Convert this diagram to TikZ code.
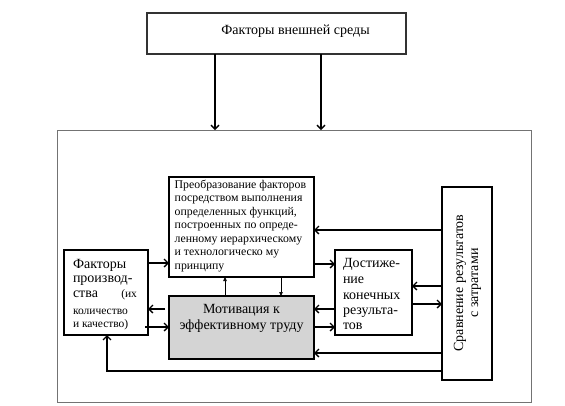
\documentclass[tikz,border=0pt]{standalone}
\usepackage{fontspec}
\setmainfont{Liberation Serif}
\usetikzlibrary{arrows.meta}
\begin{document}
\begin{tikzpicture}[x=1pt,y=-1pt,
  box/.style={draw=black, line width=1.6pt, inner sep=0pt, outer sep=0pt, anchor=north west},
  outerbox/.style={draw=black!55, line width=0.9pt, inner sep=0pt, outer sep=0pt, anchor=north west},
  arr/.style={line width=1.3pt, -{Straight Barb[length=4pt,width=8pt,line width=1.3pt]}},
  sarr/.style={line width=0.6pt, -{Triangle[length=4pt,width=3.5pt]}},
  lbl/.style={inner sep=0pt, outer sep=0pt, anchor=base west},
  big/.style={font=\fontsize{14}{15}\selectfont},
  small/.style={font=\fontsize{11.5}{12}\selectfont}]
\useasboundingbox (0,0) rectangle (565,405);

% boxes
\node[box, draw=black!80, minimum width=259pt, minimum height=41pt] (env) at (147,13) {};
\node[outerbox, minimum width=474pt, minimum height=272pt] (outer) at (57,130) {};
\node[box, minimum width=145pt, minimum height=100pt] (tr) at (169,177) {};
\node[box, minimum width=84pt, minimum height=85pt] (fp) at (64,250) {};
\node[box, fill=black!17, minimum width=145pt, minimum height=63pt] (mo) at (169,296) {};
\node[box, minimum width=77pt, minimum height=85pt] (ach) at (335,250) {};
\node[box, minimum width=50pt, minimum height=193pt] (cmp) at (442,187) {};

% texts
\node[inner sep=0pt, font=\fontsize{14}{16}\selectfont] (envt) at (295.5,31) {Факторы внешней среды};

\node[inner sep=0pt, anchor=north west, align=left, font=\fontsize{11.8}{13.5}\selectfont] (trt) at (174.5,179.5)
 {Преобразование факторов\\
  посредством выполнения\\
  определенных функций,\\
  построенных по опреде-\\
  ленному иерархическому\\
  и технологическо му\\
  принципу};

\node[lbl, big] (f1) at (73,268) {Факторы};
\node[lbl, big] (f2) at (73,282) {производ-};
\node[lbl, big] (f3) at (73,297) {ства};
\node[lbl, small, anchor=base east] (f3b) at (137,297) {(их};
\node[lbl, small] (f4) at (73,314) {количество};
\node[lbl, small] (f5) at (73,327) {и качество)};

\node[inner sep=0pt, anchor=base, big] (m1) at (241.5,313) {Мотивация к};
\node[inner sep=0pt, anchor=base, big] (m2) at (241.5,329) {эффективному труду};

\node[lbl, big] (a1) at (343,267) {Достиже-};
\node[lbl, big] (a2) at (343,283) {ние};
\node[lbl, big] (a3) at (343,299) {конечных};
\node[lbl, big] (a4) at (343,314) {результа-};
\node[lbl, big] (a5) at (343,329) {тов};

\node[inner sep=0pt, rotate=90, align=center, font=\fontsize{14}{15}\selectfont] (cmpt) at (467.5,283)
 {Сравнение результатов\\с затратами};

% connectors
\draw[arr] (env.south -| 215,0) -- (outer.north -| 215,0);
\draw[arr] (env.south -| 321,0) -- (outer.north -| 321,0);

\draw[arr] (fp.east |- 0,263) -- (tr.west |- 0,263);
\draw[arr] (tr.east |- 0,264) -- (ach.west |- 0,264);
\draw[arr] (cmp.west |- 0,230) -- (tr.east |- 0,230);
\draw[arr] (cmp.west |- 0,286) -- (ach.east |- 0,286);
\draw[arr] (ach.east |- 0,304) -- (cmp.west |- 0,304);
\draw[arr] (ach.west |- 0,309) -- (mo.east |- 0,309);
\draw[arr] (mo.east |- 0,327) -- (ach.west |- 0,327);
\draw[arr] (cmp.west |- 0,353) -- (mo.east |- 0,353);
\draw[arr] ([xshift=-4pt]mo.west |- 0,309) -- (fp.east |- 0,309);
\draw[arr] ([xshift=-3pt]fp.east |- 0,327) -- (mo.west |- 0,327);
\draw[arr] (cmp.west |- 0,371) -- (107,371) -- (fp.south -| 107,0);

\draw[sarr] (mo.north -| 225,0) -- (tr.south -| 225,0);
\draw[sarr] (tr.south -| 281,0) -- (mo.north -| 281,0);
\end{tikzpicture}
\end{document}
